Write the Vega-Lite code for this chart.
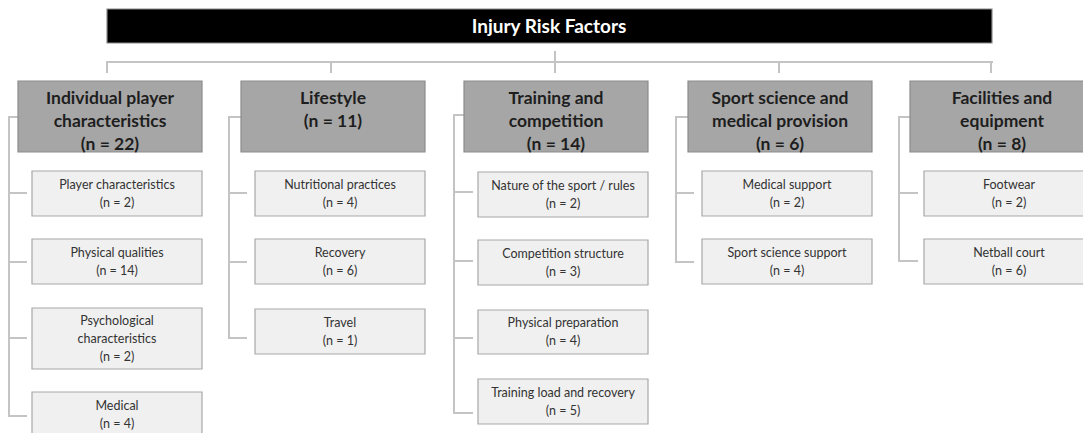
{
  "$schema": "https://vega.github.io/schema/vega-lite/v6.json",
  "width": 1083,
  "height": 433,
  "autosize": {"type": "none"},
  "padding": 0,
  "background": "white",
  "config": {"view": {"stroke": null}},
  "datasets": {
    "boxes": [
      {"kind": "root", "x": 107, "x2": 992, "y": 9, "y2": 43, "label": "Injury Risk Factors", "tx": 549, "ty": 26.5},
      {"kind": "cat", "x": 18, "x2": 202, "y": 81, "y2": 152, "label": "Individual player\ncharacteristics\n(n = 22)", "tx": 110, "ty": 99},
      {"kind": "cat", "x": 241, "x2": 425, "y": 81, "y2": 152, "label": "Lifestyle\n(n = 11)", "tx": 333, "ty": 99},
      {"kind": "cat", "x": 464, "x2": 648, "y": 81, "y2": 152, "label": "Training and\ncompetition\n(n = 14)", "tx": 556, "ty": 99},
      {"kind": "cat", "x": 688, "x2": 872, "y": 81, "y2": 152, "label": "Sport science and\nmedical provision\n(n = 6)", "tx": 780, "ty": 99},
      {"kind": "cat", "x": 910, "x2": 1094, "y": 81, "y2": 152, "label": "Facilities and\nequipment\n(n = 8)", "tx": 1002, "ty": 99},
      {"kind": "leaf", "x": 32, "x2": 202, "y": 171, "y2": 216, "label": "Player characteristics\n(n = 2)", "tx": 117, "ty": 184.5},
      {"kind": "leaf", "x": 32, "x2": 202, "y": 239, "y2": 284, "label": "Physical qualities\n(n = 14)", "tx": 117, "ty": 252.5},
      {"kind": "leaf", "x": 32, "x2": 202, "y": 308, "y2": 369, "label": "Psychological\ncharacteristics\n(n = 2)", "tx": 117, "ty": 321},
      {"kind": "leaf", "x": 32, "x2": 202, "y": 392, "y2": 437, "label": "Medical\n(n = 4)", "tx": 117, "ty": 406},
      {"kind": "leaf", "x": 255, "x2": 425, "y": 171, "y2": 216, "label": "Nutritional practices\n(n = 4)", "tx": 340, "ty": 184.5},
      {"kind": "leaf", "x": 255, "x2": 425, "y": 239, "y2": 284, "label": "Recovery\n(n = 6)", "tx": 340, "ty": 252.5},
      {"kind": "leaf", "x": 255, "x2": 425, "y": 309, "y2": 354, "label": "Travel\n(n = 1)", "tx": 340, "ty": 322.5},
      {"kind": "leaf", "x": 478, "x2": 648, "y": 172, "y2": 217, "label": "Nature of the sport / rules\n(n = 2)", "tx": 563, "ty": 185.5},
      {"kind": "leaf", "x": 478, "x2": 648, "y": 240, "y2": 285, "label": "Competition structure\n(n = 3)", "tx": 563, "ty": 253.5},
      {"kind": "leaf", "x": 478, "x2": 648, "y": 310, "y2": 354, "label": "Physical preparation\n(n = 4)", "tx": 563, "ty": 323},
      {"kind": "leaf", "x": 478, "x2": 648, "y": 379, "y2": 424, "label": "Training load and recovery\n(n = 5)", "tx": 563, "ty": 392.5},
      {"kind": "leaf", "x": 702, "x2": 872, "y": 171, "y2": 216, "label": "Medical support\n(n = 2)", "tx": 787, "ty": 184.5},
      {"kind": "leaf", "x": 702, "x2": 872, "y": 239, "y2": 284, "label": "Sport science support\n(n = 4)", "tx": 787, "ty": 252.5},
      {"kind": "leaf", "x": 924, "x2": 1094, "y": 171, "y2": 216, "label": "Footwear\n(n = 2)", "tx": 1009, "ty": 184.5},
      {"kind": "leaf", "x": 924, "x2": 1094, "y": 239, "y2": 284, "label": "Netball court\n(n = 6)", "tx": 1009, "ty": 252.5}
    ],
    "links": [
      {"x": 107, "x2": 992, "y": 62, "y2": 62},
      {"x": 107, "x2": 107, "y": 62, "y2": 72},
      {"x": 331, "x2": 331, "y": 62, "y2": 72},
      {"x": 555, "x2": 555, "y": 52, "y2": 72},
      {"x": 779, "x2": 779, "y": 62, "y2": 72},
      {"x": 991, "x2": 991, "y": 62, "y2": 72},

      {"x": 9, "x2": 18, "y": 117, "y2": 117},
      {"x": 9, "x2": 9, "y": 117, "y2": 416},
      {"x": 9, "x2": 26, "y": 193, "y2": 193},
      {"x": 9, "x2": 26, "y": 262, "y2": 262},
      {"x": 9, "x2": 26, "y": 338, "y2": 338},
      {"x": 9, "x2": 26, "y": 416, "y2": 416},

      {"x": 229, "x2": 241, "y": 117, "y2": 117},
      {"x": 229, "x2": 229, "y": 117, "y2": 338},
      {"x": 229, "x2": 246, "y": 193, "y2": 193},
      {"x": 229, "x2": 246, "y": 262, "y2": 262},
      {"x": 229, "x2": 246, "y": 338, "y2": 338},

      {"x": 454, "x2": 464, "y": 115, "y2": 115},
      {"x": 454, "x2": 454, "y": 115, "y2": 413},
      {"x": 454, "x2": 472, "y": 192, "y2": 192},
      {"x": 454, "x2": 472, "y": 261, "y2": 261},
      {"x": 454, "x2": 472, "y": 338, "y2": 338},
      {"x": 454, "x2": 472, "y": 413, "y2": 413},

      {"x": 676, "x2": 688, "y": 117, "y2": 117},
      {"x": 676, "x2": 676, "y": 117, "y2": 262},
      {"x": 676, "x2": 693, "y": 193, "y2": 193},
      {"x": 676, "x2": 693, "y": 262, "y2": 262},

      {"x": 899, "x2": 910, "y": 117, "y2": 117},
      {"x": 899, "x2": 899, "y": 117, "y2": 261},
      {"x": 899, "x2": 917, "y": 193, "y2": 193},
      {"x": 899, "x2": 917, "y": 261, "y2": 261}
    ]
  },
  "layer": [
    {
      "data": {"name": "links"},
      "mark": {"type": "rule", "stroke": "#c4c4c4", "strokeWidth": 2, "strokeCap": "square"},
      "encoding": {
        "x": {"field": "x", "type": "quantitative", "scale": {"domain": [0, 1083], "nice": false, "zero": false}, "axis": null},
        "x2": {"field": "x2"},
        "y": {"field": "y", "type": "quantitative", "scale": {"domain": [433, 0], "nice": false, "zero": false}, "axis": null},
        "y2": {"field": "y2"}
      }
    },
    {
      "data": {"name": "boxes"},
      "transform": [{"filter": "datum.kind === 'root'"}],
      "mark": {"type": "rect", "fill": "#000000", "stroke": "#8a8a8a", "strokeWidth": 1.2, "clip": true},
      "encoding": {
        "x": {"field": "x", "type": "quantitative", "scale": {"domain": [0, 1083], "nice": false, "zero": false}, "axis": null},
        "x2": {"field": "x2"},
        "y": {"field": "y", "type": "quantitative", "scale": {"domain": [433, 0], "nice": false, "zero": false}, "axis": null},
        "y2": {"field": "y2"}
      }
    },
    {
      "data": {"name": "boxes"},
      "transform": [{"filter": "datum.kind === 'cat'"}],
      "mark": {"type": "rect", "fill": "#a6a6a6", "stroke": "#8c8c8c", "strokeWidth": 1.2, "clip": true},
      "encoding": {
        "x": {"field": "x", "type": "quantitative", "scale": {"domain": [0, 1083], "nice": false, "zero": false}, "axis": null},
        "x2": {"field": "x2"},
        "y": {"field": "y", "type": "quantitative", "scale": {"domain": [433, 0], "nice": false, "zero": false}, "axis": null},
        "y2": {"field": "y2"}
      }
    },
    {
      "data": {"name": "boxes"},
      "transform": [{"filter": "datum.kind === 'leaf'"}],
      "mark": {"type": "rect", "fill": "#f0f0f0", "stroke": "#a8a8a8", "strokeWidth": 1.2, "clip": true},
      "encoding": {
        "x": {"field": "x", "type": "quantitative", "scale": {"domain": [0, 1083], "nice": false, "zero": false}, "axis": null},
        "x2": {"field": "x2"},
        "y": {"field": "y", "type": "quantitative", "scale": {"domain": [433, 0], "nice": false, "zero": false}, "axis": null},
        "y2": {"field": "y2"}
      }
    },
    {
      "data": {"name": "boxes"},
      "transform": [{"filter": "datum.kind === 'root'"}],
      "mark": {"type": "text", "font": "Lato", "fontSize": 19, "fontWeight": "bold", "color": "#ffffff", "align": "center", "baseline": "middle"},
      "encoding": {
        "x": {"field": "tx", "type": "quantitative", "scale": {"domain": [0, 1083], "nice": false, "zero": false}, "axis": null},
        "y": {"field": "ty", "type": "quantitative", "scale": {"domain": [433, 0], "nice": false, "zero": false}, "axis": null},
        "text": {"field": "label"}
      }
    },
    {
      "data": {"name": "boxes"},
      "transform": [{"filter": "datum.kind === 'cat'"}],
      "mark": {"type": "text", "font": "Lato", "fontSize": 17.5, "fontWeight": "bold", "color": "#1e1e1e", "align": "center", "baseline": "middle", "lineBreak": "\n", "lineHeight": 23, "clip": true},
      "encoding": {
        "x": {"field": "tx", "type": "quantitative", "scale": {"domain": [0, 1083], "nice": false, "zero": false}, "axis": null},
        "y": {"field": "ty", "type": "quantitative", "scale": {"domain": [433, 0], "nice": false, "zero": false}, "axis": null},
        "text": {"field": "label"}
      }
    },
    {
      "data": {"name": "boxes"},
      "transform": [{"filter": "datum.kind === 'leaf'"}],
      "mark": {"type": "text", "font": "Lato", "fontSize": 12.5, "color": "#333333", "align": "center", "baseline": "middle", "lineBreak": "\n", "lineHeight": 18, "clip": true},
      "encoding": {
        "x": {"field": "tx", "type": "quantitative", "scale": {"domain": [0, 1083], "nice": false, "zero": false}, "axis": null},
        "y": {"field": "ty", "type": "quantitative", "scale": {"domain": [433, 0], "nice": false, "zero": false}, "axis": null},
        "text": {"field": "label"}
      }
    }
  ]
}
